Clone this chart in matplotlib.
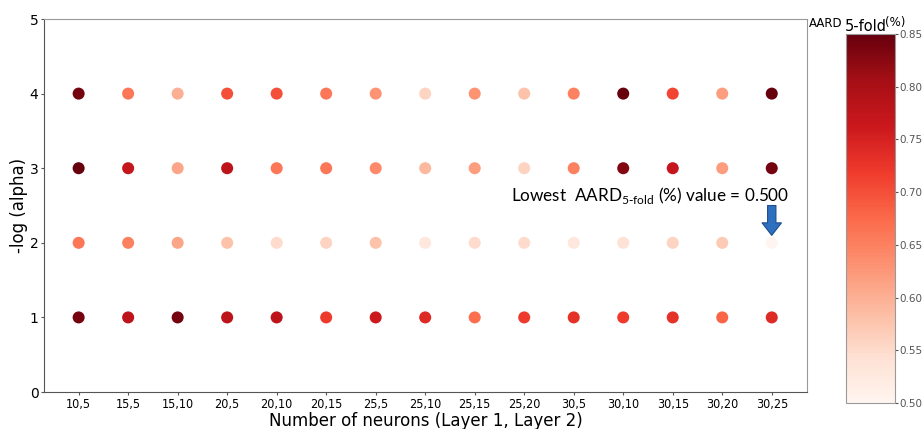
import matplotlib
matplotlib.use("Agg")
import matplotlib.pyplot as plt
import numpy as np

categories = ["10,5", "15,5", "15,10", "20,5", "20,10", "20,15", "25,5", "25,10",
              "25,15", "25,20", "30,5", "30,10", "30,15", "30,20", "30,25"]
alphas = [4, 3, 2, 1]
aard_alpha4 = [0.84, 0.66, 0.60, 0.70, 0.70, 0.66, 0.63, 0.56, 0.63, 0.58, 0.65, 0.85, 0.71, 0.62, 0.85]
aard_alpha3 = [0.85, 0.77, 0.61, 0.78, 0.66, 0.66, 0.64, 0.59, 0.62, 0.56, 0.65, 0.83, 0.77, 0.62, 0.84]
aard_alpha2 = [0.66, 0.65, 0.61, 0.58, 0.55, 0.56, 0.58, 0.53, 0.55, 0.55, 0.53, 0.54, 0.56, 0.57, 0.50]
aard_alpha1 = [0.84, 0.78, 0.84, 0.78, 0.78, 0.72, 0.76, 0.74, 0.67, 0.72, 0.73, 0.72, 0.73, 0.68, 0.74]
rows = [aard_alpha4, aard_alpha3, aard_alpha2, aard_alpha1]

fig = plt.figure(figsize=(9.22, 4.29), dpi=100)
ax = fig.add_axes([0.0477, 0.0862, 0.828, 0.8695])
cax = fig.add_axes([0.9176, 0.0606, 0.053, 0.860])

xs = np.arange(len(categories))
sc = None
for a, vals in zip(alphas, rows):
    sc = ax.scatter(xs, [a] * len(xs), c=vals, cmap="Reds", vmin=0.5, vmax=0.85,
                    s=75, edgecolors="none", zorder=3)

ax.set_xlim(-0.7, 14.72)
ax.set_ylim(0, 5)
ax.set_xticks(xs)
ax.set_xticklabels(categories, fontsize=9, fontstretch="condensed")
ax.set_yticks([0, 1, 2, 3, 4, 5])
ax.tick_params(axis="y", labelsize=10, length=2, pad=2, color="#555555")
ax.tick_params(axis="x", length=2, pad=2, color="#555555")
for side in ["left", "bottom", "right", "top"]:
    ax.spines[side].set_color("#999999")
ax.spines["left"].set_color("#555555")
ax.spines["bottom"].set_color("#555555")
ax.set_xlabel("Number of neurons (Layer 1, Layer 2)", fontsize=12, labelpad=1)
ax.set_ylabel("-log (alpha)", fontsize=12, labelpad=1)

ax.text(11.55, 2.63, r"Lowest  AARD$_{\mathregular{5\text{-}fold}}$ (%) value = 0.500",
        fontsize=12.3, family="Lato", ha="center", va="center")
ax.annotate("", xy=(14, 2.1), xytext=(14, 2.5),
            arrowprops=dict(facecolor="#2E6FBF", edgecolor="#1F4E8C", width=6,
                            headwidth=14, headlength=9, linewidth=0.8))

cb = fig.colorbar(sc, cax=cax)
cb.set_ticks([0.50, 0.55, 0.60, 0.65, 0.70, 0.75, 0.80, 0.85])
cb.ax.tick_params(labelsize=7.5, colors="#555555", length=2, pad=1)
cb.outline.set_edgecolor("#999999")
fig.text(0.9143, 0.937, "AARD", fontsize=8.5, ha="right", va="baseline")
fig.text(0.9165, 0.928, "5-fold", fontsize=10.5, ha="left", va="baseline")
fig.text(0.960, 0.940, "(%)", fontsize=8.5, ha="left", va="baseline")

fig.savefig("out.png", dpi=100)
